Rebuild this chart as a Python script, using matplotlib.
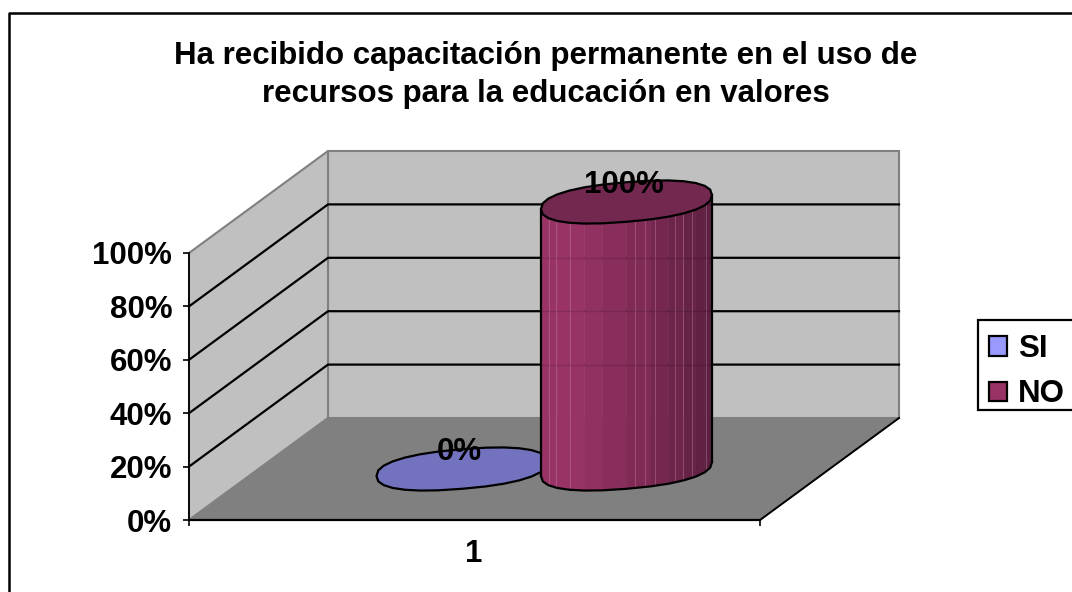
import matplotlib
matplotlib.use("Agg")
import matplotlib.pyplot as plt
import numpy as np
from matplotlib.colors import to_rgb
from matplotlib.patches import Polygon, Patch, Rectangle

plt.rcParams["font.family"] = ["Liberation Sans", "DejaVu Sans"]
plt.rcParams["font.weight"] = "bold"

title = "Ha recibido capacitación permanente en el uso de\nrecursos para la educación en valores"
series = ["SI", "NO"]
values = [0, 100]
value_labels = ["0%", "100%"]
yticks = [0, 20, 40, 60, 80, 100]
ytick_labels = ["0%", "20%", "40%", "60%", "80%", "100%"]
category = "1"

W, H = 1072, 592
FS = 22.5
fig = plt.figure(figsize=(W / 100, H / 100), dpi=100)

# front face of the 3d box, in pixels
left, right, bottom, top = 189, 760, 520, 253
ax = fig.add_axes([left / W, 1 - bottom / H, (right - left) / W, (bottom - top) / H])
ax.set_xlim(0, right - left)
ax.set_ylim(0, 100)
ypx = (bottom - top) / 100.0  # pixels per percent
dx = 139
dy = 102 / ypx


def proj(x, v, d):
    return x + dx * d, v + dy * d


# floor and walls
back = [proj(0, 0, 1), proj(571, 0, 1), proj(571, 100, 1), proj(0, 100, 1)]
side = [proj(0, 0, 0), proj(0, 0, 1), proj(0, 100, 1), proj(0, 100, 0)]
floor = [proj(0, 0, 0), proj(571, 0, 0), proj(571, 0, 1), proj(0, 0, 1)]
ax.add_patch(Polygon(back, fc="#C0C0C0", ec="#808080", lw=1.5, clip_on=False, zorder=1))
ax.add_patch(Polygon(side, fc="#C0C0C0", ec="#808080", lw=1.5, clip_on=False, zorder=1))
ax.add_patch(Polygon(floor, fc="#808080", ec="#808080", lw=1, clip_on=False, zorder=1))

# gridlines
for v in yticks[1:-1]:
    p0 = proj(0, v, 0)
    p1 = proj(0, v, 1)
    p2 = proj(571, v, 1)
    ax.plot([p0[0], p1[0], p2[0]], [p0[1], p1[1], p2[1]], color="black", lw=1.6,
            clip_on=False, zorder=2)
p0, p1 = proj(571, 0, 0), proj(571, 0, 1)
ax.plot([p0[0], p1[0]], [p0[1], p1[1]], color="black", lw=1.4, clip_on=False, zorder=2)


# cylinders, coarse polygons like the original
rx = 85.5
rb = 19.8 / ypx
rs = 7 / ypx
tt = np.linspace(0, 2 * np.pi, 29)


def ring(cx, v):
    c = np.cos(tt)
    s = np.sin(tt)
    c = np.sign(c) * np.abs(c) ** 0.85
    s = np.sign(s) * np.abs(s) ** 0.85
    return cx + rx * c, v + rb * s + rs * c


def cylinder(cx, value, top_color, z):
    cx0, v0 = proj(cx, 0, 0.5)
    if value > 0:
        n = len(tt) - 1
        c1 = np.array(to_rgb("#993366"))
        c2 = np.array(to_rgb("#5A1F3E"))
        xb, yb = ring(cx0, v0)
        xt, yt = ring(cx0, v0 + value)
        # lower half of the ring is the side we can see
        for i in range(n):
            if np.sin(tt[i]) > 1e-6 or np.sin(tt[i + 1]) > 1e-6:
                continue
            f = (xb[i] - (cx0 - rx)) / (2 * rx)
            f = max(0, (f - 0.15) / 0.85)
            col = c1 + (c2 - c1) * f
            ax.fill([xb[i], xb[i + 1], xt[i + 1], xt[i]], [yb[i], yb[i + 1], yt[i + 1], yt[i]],
                    fc=col, ec=col, lw=0.3, clip_on=False, zorder=z)
        # faint lighter facet edges
        for x_line in [8, 15, 29, 94, 104, 114, 134, 142, 151, 165]:
            k = x_line - rx
            y0 = np.interp(cx0 + k, xb[14:29], yb[14:29])
            ax.plot([cx0 + k, cx0 + k], [y0, y0 + value], color="#C080A0", lw=0.6, alpha=0.5,
                    clip_on=False, zorder=z + 0.1)
        # gridlines show a little through the body
        for v in yticks[1:-1]:
            gy = proj(0, v, 1)[1]
            ax.plot([cx0 - rx, cx0 + rx], [gy, gy], color="black", lw=1, alpha=0.12,
                    clip_on=False, zorder=z + 0.2)
        # outline
        ax.plot(xb[14:29], yb[14:29], color="black", lw=1.6, clip_on=False, zorder=z + 0.3)
        ax.plot([cx0 - rx, cx0 - rx], [v0 - rs, v0 - rs + value], color="black", lw=1.6,
                clip_on=False, zorder=z + 0.3)
        ax.plot([cx0 + rx, cx0 + rx], [v0 + rs, v0 + rs + value], color="black", lw=1.6,
                clip_on=False, zorder=z + 0.3)
    xt, yt = ring(cx0, v0 + value)
    ax.add_patch(Polygon(np.column_stack([xt[:-1], yt[:-1]]), closed=True, fc=top_color, ec="black",
                         lw=1.6, clip_on=False, zorder=z + 0.4))
    return cx0, v0 + value


centers = [203.5, 368]
colors = ["#9999FF", "#993366"]
top_colors = ["#7272BE", "#732850"]
for i in range(2):
    cx0, vt = cylinder(centers[i], values[i], top_colors[i], 3 + i)
    ax.text(cx0 - 3, vt + 17 / ypx, value_labels[i], ha="center", va="center", fontsize=FS,
            fontweight="bold", color="black", clip_on=False, zorder=6)

# axes
for s in ["top", "right"]:
    ax.spines[s].set_visible(False)
ax.patch.set_visible(False)
ax.spines["left"].set_zorder(2.5)
ax.spines["bottom"].set_zorder(2.5)
ax.spines["left"].set_linewidth(1.3)
ax.spines["bottom"].set_linewidth(1.6)
ax.set_yticks(yticks)
ax.set_yticklabels(ytick_labels, fontsize=FS, fontweight="bold")
ax.tick_params(axis="y", length=4, width=1.2, pad=8)
ax.set_xticks([0, 571])
ax.set_xticklabels(["", ""])
ax.set_xticks([285], minor=True)
ax.set_xticklabels([category], minor=True, fontsize=FS, fontweight="bold")
ax.tick_params(axis="x", which="major", length=4, width=1.2)
ax.tick_params(axis="x", which="minor", length=0, pad=14)

fig.text(546 / W, 1 - 75 / H, title, ha="center", va="center", fontsize=FS, fontweight="bold",
         linespacing=1.35)

# chart area frame, cut off by the picture on the right and at the bottom
fig.add_artist(plt.Line2D([8.5 / W, 8.5 / W, 1], [0, 1 - 12.5 / H, 1 - 12.5 / H], color="black", lw=1.8))

# legend box runs off the picture, so it is drawn apart from the entries
fig.add_artist(Rectangle((978 / W, 1 - 410 / H), 120 / W, 90 / H, transform=fig.transFigure,
                         fc="white", ec="black", lw=1.6))
handles = [Patch(fc=colors[i], ec="black", lw=1.6) for i in range(2)]
leg = fig.legend(handles, series, loc="upper left", bbox_to_anchor=(989 / W, 1 - 334 / H),
                 borderaxespad=0, borderpad=0, fontsize=FS, handlelength=0.58, handleheight=0.58,
                 handletextpad=0.35, labelspacing=0.49, frameon=False)

fig.savefig("out.png", dpi=100)
